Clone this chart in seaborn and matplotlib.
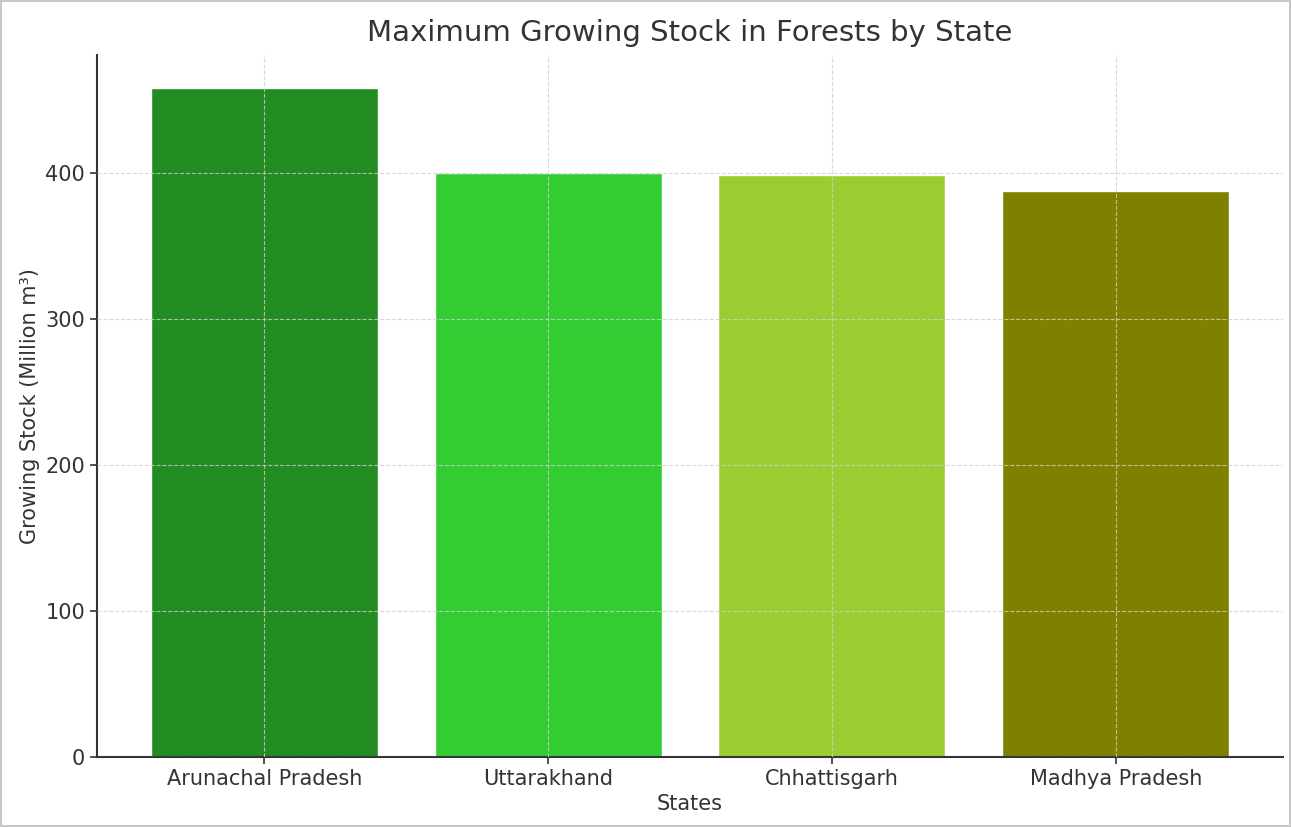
import matplotlib
matplotlib.use("Agg")
import seaborn as sns
import matplotlib.pyplot as plt

states = ["Arunachal Pradesh", "Uttarakhand", "Chhattisgarh", "Madhya Pradesh"]
growing_stock = [458, 400, 398.5, 387.5]
bar_colors = ["forestgreen", "limegreen", "yellowgreen", "olive"]

sns.set_style("white")
plt.rcParams["font.family"] = ["DejaVu Sans"]

fig = plt.figure(figsize=(12.91, 8.27), dpi=100, edgecolor="#c8c8c8", linewidth=1.5)
ax = fig.add_axes([0.075, 0.085, 0.919, 0.8485])

sns.barplot(x=states, y=growing_stock, hue=states, palette=bar_colors,
            saturation=1, width=0.8, legend=False, ax=ax)

ax.set_axisbelow(False)
ax.grid(True, linestyle="--", color="#d0d0d0", linewidth=0.8, alpha=0.8)
ax.set_ylim(0, max(growing_stock) * 1.05)
ax.set_xlim(-0.59, 3.59)

for side in ["top", "right"]:
    ax.spines[side].set_visible(False)
for side in ["left", "bottom"]:
    ax.spines[side].set_color("#333333")
    ax.spines[side].set_linewidth(1.5)

ax.tick_params(axis="both", labelsize=15, colors="#333333", length=5, width=1.2, bottom=True, left=True)
ax.set_title("Maximum Growing Stock in Forests by State", fontsize=21, color="#333333", pad=10)
ax.set_xlabel("States", fontsize=15, color="#333333")
ax.set_ylabel("Growing Stock (Million m³)", fontsize=15, color="#333333")

fig.savefig("out.png", dpi=100)
